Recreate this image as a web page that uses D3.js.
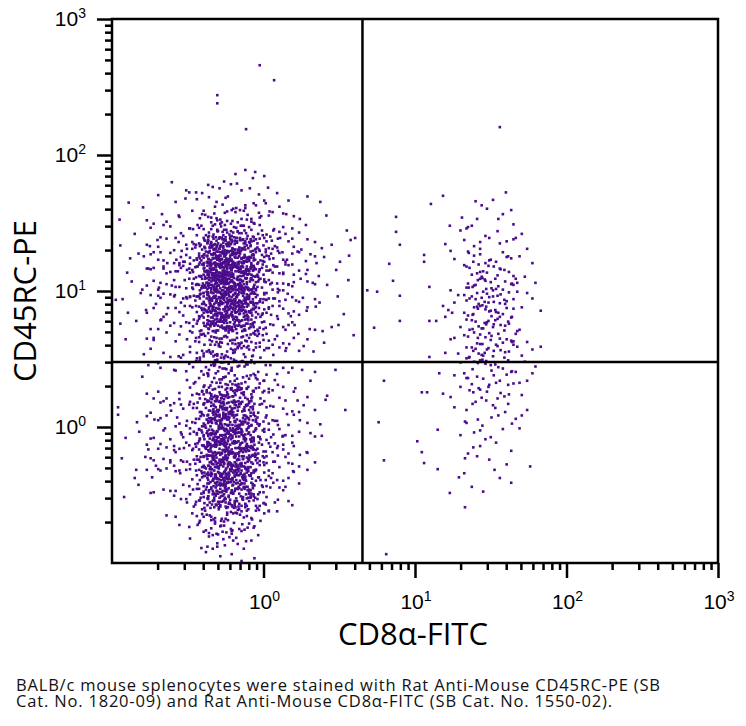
<!DOCTYPE html>
<html>
<head>
<meta charset="utf-8">
<script src="https://cdn.jsdelivr.net/npm/d3@7"></script>
<style>body{margin:0;background:#fff}</style>
</head>
<body>
<script>
// events as "xxxyyy": (log10(value)+1)*200 for CD8a-FITC, then CD45RC-PE
var cd8NegHigh = [
 "163572 186566 148561 201569 079560 189575 171548 133553 194542 157557 119544 182551 102545 206552",
 "146527 201533 128538 164522 187529 112535 153539 221524 138531 176526 097536 160521 041523 022530 275531",
 "143505 179512 121518 166501 195508 135514 152503 208517 127509 171506 149515 088511 184502 158519 116507 230513 139504 163516 197510 131501 174518 066513 248506 283511 010505",
 "155483 131491 172496 146487 188499 124482 161494 140488 179481 113497 151490 168485 136498 193484 102492 158481 144495 175489 128486 164493 209480 149497 134483 184490 118496 166487 147482 226494 139488 157499 177485 107491 170496 133480 198489 152486 030484 256497 214491 310489",
 "143465 181472 121478 163461 150474 200467 137479 171463 115470 156476 189461 130468 148475 215466 127473 167460 142479 110464 154471 195477 135462 162469 122475 183466 145478 159461 204473 132467 173476 099462 153470 187479 138465 165473 117468 176461 141477 192470 129464 158475 106462 169478 147466 182471 123463 161479 139467 211474 134461 174470 050466 238477 277463 088472 290468 250461 060475 222478",
 "150443 119451 190457 144446 163440 131454 180449 153458 125442 171447 136455 201450 148441 166456 112448 185453 157444 129459 174441 141452 196445 160457 121449 178443 134455 152446 207451 116442 168458 145447 187453 139440 162456 103449 176444 149451 127457 193442 156448 133453 170459 118445 183450 147441 164454 137448 210455 154443 124458 174449 143452 189446 132440 159457 115451 181444 151455 128447 167441 198453 140449 163456 096443 042451 231446 262454 024448 245458 301443 073441 280450 225457 085446 256444 035455 313452 208447 092459 270441",
 "158423 131431 172437 146426 188434 124428 161439 140422 179432 113436 151425 168430 136438 193421 102433 158427 144435 175429 128424 164437 209431 149426 134433 184438 118422 166429 147435 226427 139439 157423 177432 107428 170436 133421 198434 152428 126437 186430 160422 143438 181425 121433 163429 150436 200424 137431 171427 115439 156434 189421 130428 148433 215436 127426 167439 142422 178430 110435 154427 195432 135420 162437 122429 183433 145424 159438 204430 132426 173435 099431 153423 187437 138428 165434 117421 176429 141436 192424 129439 048433 256425 238439 020427 296431 068436 273422 087429",
 "158403 106411 169417 147406 182414 123408 161419 139402 211412 134416 174405 150410 119418 190401 144413 163407 131419 180404 153411 096416 166409 136403 201417 125412 171406 148419 185402 112410 157415 141408 178413 128405 196418 152401 120411 167416 143404 233409 137419 160413 155406 131402 172414 146418 188409 124405 161412 140417 179403 113410 151415 168408 136401 193414 102418 158407 144411 175404 128416 164402 209410 149413 134407 184417 118404 166410 147415 226401 139412 157406 177418 107403 170409 133416 198405 152411 026414 062405 249418 284409 040402 265412 312416 079408 221401",
 "143385 181391 121397 163382 150394 200388 137399 171384 115392 156387 189396 130381 148393 215389 127398 167383 142390 178395 110386 154399 195384 135392 162388 122381 183396 145390 159383 204397 132386 173393 099389 153382 187398 138385 165391 117396 176387 141382 192394 129388 150398 119381 190391 144384 163397 131389 180393 153386 125399 171382 136390 201395 148387 166383 112392 185398 157385 129390 174397 141381 196388 160394 121384 178391 134397 152383 207389 116395 168386 145393 187381 139398 162388 103392 176385 038397 252390 274383 014388 232396 058381 298392 083394 243386",
 "150365 119372 190377 144362 163374 131368 180379 153363 125371 171376 136366 201373 148361 166378 112369 185364 157375 129370 174367 141379 196362 160373 121368 178377 134364 152371 207376 116362 168379 145367 187373 139365 162370 103378 176363 149374 127369 193366 156378 133361 170372 118375 183368 147363 164377 137370 210365 154373 124379 174362 143368 189375 132371 159364 115377 181369 151362 128376 167371 198365 140374 163368 096378 045372 236363 269377 021368 257371 306366 074375",
 "158343 131351 172357 146346 188354 124348 161359 140342 179352 113356 151345 168350 136358 193341 102353 158347 144355 175349 128344 164357 209351 149346 134353 184358 118342 166349 147355 226347 139359 157343 177352 107348 170356 133341 198354 152348 126357 186350 160342 143358 181345 121353 163349 150356 200344 137351 171347 115359 156354 189341 130348 148353 032356 261344 241350 290347 065358 011352 278341",
 "143325 181331 121337 163322 150334 200328 137339 171324 115332 156327 189336 130321 148333 215329 127338 167323 142330 178335 110326 154339 195324 135332 162328 122321 183336 145330 159323 204337 132326 173333 099329 153322 187338 138325 165331 117336 176327 141322 192334 129328 055331 246337 280324 018329 234322 319335",
 "150305 119312 190317 144302 163314 131308 180319 153303 125311 171316 136306 201313 148301 166318 112309 185304 157315 129310 174307 141319 196302 160313 121308 178317 134304 152311 207316 116302 168319 145307 187313 139305 162310 103318 176303 042307 230316 266311 088304 253319",
 "158283 131291 172297 146286 188294 124288 161299 140282 179292 113296 151285 168290 136298 193281 102293 158287 144295 175289 128284 164297 209291 149286 134293 184298 118282 166289 147295 226287 139299 157283 177292 107288 170296 048291 251284"
].join(" ");

var cd8NegHighWide = [
 "150537 098548 203529 127556 176522 061541 233533 142551 190526 111545 165558 084531 218544 136524 258539",
 "119513 184506 152517 072502 207511 131508 169519 046504 194515 145501 240510 106518 178505 123512 212516 159503 089509 226514 138507 187500",
 "115493 171485 055499 199482 148490 133496 221487 094481 181494 157488 068497 204483 121491 247486 143499 186480 103492 166488 077495 229484 139490 195497 112482 160486 051493 213489 128481 174496 091485 238492",
 "147463 183476 108469 268472 135461 201478 116466 162474 082460 219477 154467 126471 192464 064479 173462 150475 098468 203461 127479 176470 061465 233473 142462 190476 111468 165471 084478 218464 136469 258476 119461 184473 152466 072477 207463 131470 169475 046468 194461 145478 240465 106472 178467 123474 212462",
 "159453 089441 226446 138458 187449 115455 171442 055457 199444 148451 133448 221456 094443 181450 157459 068445 204452 121441 247457 143447 186454 103440 166449 077456 229443 139451 195459 112446 160441 051454 213448 128457 174443 091450 238455 147442 183458 108445 268451 135456 201443 116448 162454 082441 219459 154446 126452 192440 064457 173449 150445 098453 203457 127441 176450 061446",
 "233438 142427 190432 111420 165435 084429 218436 136423 258431 119439 184424 152434 072426 207430 131437 169422 046433 194428 145439 240424 106431 178436 123421 212427 159434 089438 226425 138430 187436 115422 171428 055434 199439 148423 133431 221426 094437 181429 157421 068433 204436 121424 247430 143438 186422 103427 166435 077428 229439 139424 195431 112436 160425 051432 213438 128421 174429 091434",
 "238407 147415 183402 108418 268410 135405 201414 116401 162409 082416 219403 154411 126419 192406 064412 173400 150417 098404 203413 127408 176419 061402 233410 142415 190403 111409 165418 084406 218411 136401 258414 119407 184419 152403 072410 207416 131404 169412 046408 194417 145401 240413 106405 178410 123418 212402 159414 089406 226411 138417 187404 115409 171401 055415",
 "199383 148391 133397 221385 094389 181393 157381 068396 204387 121392 247384 143398 186388 103391 166383 077395 229387 139399 195385 112392 160381 051394 213389 128386 174397 091383 238391 147396 183384 108393 268388 135381 201397 116389 162385 082392 219398 154386 126394 192382 064390 173398 150384 098391 203387 127395 176382 061393",
 "233367 142373 190361 111378 165369 084375 218363 136371 258376 119364 184372 152379 072366 207374 131361 169377 046368 194375 145363 240370 106376 178365 123372 212378 159362 089369 226374 138366 187379 115363 171371 055375 199367 148361 133373 221378 094364 181370 157376 068362 204368 121374 247365",
 "143347 186353 103341 166357 077349 229343 139355 195346 112352 160358 051344 213350 128356 174342 091348 238354 147345 183351 108358 268343 135349 201355 116341 162347 082353 219359 154346 126351 192343 064357 173349 150342 098354 203346 127352 176358 061344 233350 142355",
 "190323 111331 165338 084326 218334 136321 258329 119336 184325 152332 072339 207327 131333 169322 046330 194337 145324 240331 106339 178326 123334 212321 159328 089336 226323 138331 187338 115325 171332 055328 199335",
 "148303 133311 221317 094306 181314 157301 068309 204316 121304 247312 143318 186305 103310 166316 077303 229312 139307 195318 112301 160309 051315 213306 128313 174319 091302"
].join(" ");

var cd8NegHighCore = [
 "152469 138474 167461 145478 175465 131472 159463 148476 183467 126470 156479 141462 170475 135468 162473 149460 178477 129464 154471 143466 187474 137462 164478 151469 122465 172461 146476 158472 133467 180463 150479 140470 168464 127475 161461 144468 176473 134477 155466 190462 147471 165478 132464 157469 173475",
 "139446 150453 184441 128457 163449 142444 169455 136442 153458 179447 125451 160443 145456 171448 130441 158454 149445 186459 138450 166442 143457 155447 121453 174444 152459 134448 162441 147455 181446 137452 168443 154458 141449 177444 150456 152442 138451 167458 145447 175453 131445 159440 148457 183449 126443 156452 141446 170459 135441 162450 149455 178448 129443 154457 143452 187445 137440 164456 151448 122454 172441 146459 158446 133453 180449 150442 140458 168451 127447 161455 144441",
 "176426 134433 155438 190422 147429 165436 132424 157431 173427 139439 150423 184434 128428 163437 142421 169433 136426 153439 179424 125430 160435 145422 171428 130437 158431 149424 186436 138429 166421 143434 155427 121438 174423 152432 134426 162437 147421 181430 137435 168428 154423 141439 177431 150425 152436 138422 167430 145437 175426 131433 159421 148429 183435 126424 156438 141427 170432 135422 162436 149429 178425 129433 154439 143426 187431 137424 164437 151428 122434 172422 146430 158437 133425 180431 150438 140423 168434 127429 161436 144421 176427 134432",
 "155406 190413 147401 165417 132409 157404 173415 139408 150419 184402 128411 163406 142416 169403 136410 153418 179405 125412 160401 145414 171407 130419 158403 149411 186416 138406 166402 143413 155418 121405 174410 152404 134417 162408 147412 181401 137415 168409 154404 141418 177406 150411 152415 138403 167409 145417 175401 131414 159406 148410 183418 126403 156413 141408 170416 135402 162411 149405 178419 129409 154402 143415 187406 137413 164401 151417 122408 172404 146412 158416 133407 180402 150414 140418 168405 127411 161403",
 "144396 176384 134391 155398 190382 147389 165393 132386 157399 173381 139388 150395 184383 128392 163387 142398 169385 136390 153396 179381 125389 160394 145383 171397 130386 158391 149399 186384 138388 166395 143381 155392 121397 174386 152383 134390 162396 147382 181388 137393 168399 154385 141391 177382 150397 152389 138384 167395 145381 175390 131398 159386 148392 183383 126396 156387 141399 170384 135391 162385 149397 178388 129382 154394 143389 187396 137383 164391",
 "151366 122373 172378 146362 158369 133375 180361 150377 140368 168374 127363 161379 144366 176371 134377 155364 190369 147373 165361 132378 157366 173372 139364 150376 184368 128374 163362 142379 169367 136371 153376 179363 125369 160375 145361 171372 130378 158365 149370 186374 138363 166378 143367 155373 121361 174376 152368 134372 162379 147364 181370 137375 168366 154361 141374 177369",
 "150346 152353 138342 167357 145349 175344 131355 159341 148358 183347 126352 156343 141356 170348 135341 162354 149345 178359 129350 154342 143357 187347 137353 164344 151358 122349 172341 146355 158346 133352 180357 150343 140349 168354 127345 161351 144358 176342 134356 155348"
].join(" ");

var cd8NegLow = [
 "143265 181271 121277 163262 150274 200268 137279 171264 115272 156267 189276 130261 148273 215269 127278 167263 142270 178275 110266 154279 195264 135272 162268 122261 183276 145270 159263 204277 132266 173273 099269 153262 187278 138265 165271 040274 262268",
 "150245 119252 190257 144242 163254 131248 180259 153243 125251 171256 136246 201253 148241 166258 112249 185244 157255 129250 174247 141259 196242 160253 121248 178257 134244 152251 207256 116242 168259 145247 187253 139245 162250 103258 176243 061252 242257 284246 089241",
 "158223 131231 172237 146226 188234 124228 161239 140222 179232 113236 151225 168230 136238 193221 102233 158227 144235 175229 128224 164237 209231 149226 134233 184238 118222 166229 147235 226227 139239 157223 177232 107228 170236 133221 198234 152228 126237 186230 160222 143238 181225 121233 008229 064236 078224 253232 245239",
 "143205 181211 121217 163202 150214 200208 137219 171204 115212 156207 189216 130201 148213 215209 127218 167203 142210 178215 110206 154219 195204 135212 162208 122201 183216 145210 159203 204217 132206 173213 099209 153202 187218 138205 165211 117216 176207 141202 192214 129208 150218 119201 190211 144204 163217 131209 180213 033207 086214 231219 275204 056211",
 "150185 119192 190197 144182 163194 131188 180199 153183 125191 171196 136186 201193 148181 166198 112189 185184 157195 129190 174187 141199 196182 160193 121188 178197 134184 152191 207196 116182 168199 145187 187193 139185 162190 103198 176183 149194 127189 193186 156198 133181 170192 118195 183188 147183 164197 137190 210185 154193 124199 174182 143188 189195 132191 159184 115197 092189 036193 225186 262191 070198 018184",
 "158163 131171 172177 146166 188174 124168 161179 140162 179172 113176 151165 168170 136178 193161 102173 158167 144175 175169 128164 164177 209171 149166 134173 184178 118162 166169 147175 226167 139179 157163 177172 107168 170176 133161 198174 152168 126177 186170 160162 143178 181165 121173 163169 150176 200164 137171 171167 115179 156174 189161 130168 148173 215176 127166 167179 142162 178170 110175 082172 048167 238177 257163 095169",
 "143145 181151 121157 163142 150154 200148 137159 171144 115152 156147 189156 130141 148153 215149 127158 167143 142150 178155 110146 154159 195144 135152 162148 122141 183156 145150 159143 204157 132146 173153 099149 153142 187158 138145 165151 117156 176147 141142 192154 129148 150158 119141 190151 144144 163157 131149 180153 153146 125159 171142 136150 201155 148147 166143 112152 185158 157145 077151 044156 233147 058143 248159",
 "150125 119132 190137 144122 163134 131128 180139 153123 125131 171136 136126 201133 148121 166138 112129 185124 157135 129130 174127 141139 196122 160133 121128 178137 134124 152131 207136 116122 168139 145127 187133 139125 162130 103138 176123 149134 127129 193126 156138 133121 170132 118135 183128 147123 164137 137130 210125 154133 124139 174122 143128 189135 132131 159124 115137 181129 090132 053126 239135",
 "158103 131111 172117 146106 188114 124108 161119 140102 179112 113116 151105 168110 136118 193101 102113 158107 144115 175109 128104 164117 209111 149106 134113 184118 118102 166109 147115 226107 139119 157103 177112 107108 170116 133101 198114 152108 126117 186110 160102 143118 181105 121113 163109 150116 200104 137111 084106 035115",
 "143085 181091 121097 163082 150094 200088 137099 171084 115092 156087 189096 130081 148093 215089 127098 167083 142090 178095 110086 154099 195084 135092 162088 122081 183096 145090 159083 204097 132086 173093 099089 153082 187098 138085 165091 117096 176087 141082 192094",
 "150065 119072 190077 144062 163074 131068 180079 153063 125071 171076 136066 201073 148061 166078 112069 185064 157075 129070 174067 141079 196062 160073 121068 178077 134064 152071 207076 116062 168079",
 "158043 131051 172057 146046 188054 124048 161059 140042 179052 113056 151045 168050 136058 193041 102053 158047 144055 175049 128044",
 "164037 149026 184033 118022 147035 139029 177032 133021 155038 126024 158013 188007 124016 171003 143010"
].join(" ");

var cd8NegLowWide = [
 "238287 147273 183295 108264 268281 135290 201268 116298 162276 082284 219262 154293 126279 064287 192270 173296 150263 098282 203291 127275 176266 061294 233280 142288 190272 111297 165261 084283 218278 136292",
 "258244 119253 184248 152257 072242 207251 131246 169255 046249 194258 145243 240252 106247 178256 123241 212254 159245 089250 226259 138244 187252 115248 171257 055242 199251 148246 133255 221243",
 "094227 181235 157221 068238 204229 121234 247222 143231 186226 103237 166224 077232 229239 139225 195233 112228 160236 051221 213230 128238 174226 091233 238223 147237 183229 108234 268225 135231 201238 116222 162228 082235",
 "219203 154211 126217 192205 064213 173208 150219 098202 203214 127206 176217 061210 233203 142215 190208 111212 165218 084201 218209 136214 258206 119219 184203 152211 072217 207205 131213 169209 046216 194202 145212 240218 106207 178214 123203 212210 159217 089205",
 "226187 138193 187181 115196 171189 055184 199195 148182 133190 221197 094185 181192 157188 068195 204181 121186 247193 143199 186184 103190 166197 077182 229188 139194 195185 112191 160198 051183 213189 128196 174185 091192 238187 147199 183182 108193 268186 135190 201197 116183 162194",
 "082166 219172 154161 126178 192168 064175 173163 150170 098177 203164 127172 176179 061168 233161 142174 190166 111171 165178 084163 218169 136175 258162 119173 184179 152165 072170 207176 131164 169168 046174 194177 145161 240172 106166 178175 123170 212163 159177 089168 226174 138161 187179 115167",
 "171143 055151 199157 148146 133152 221141 094149 181158 157144 068153 204147 121156 247142 143150 186159 103145 166153 077148 229156 139141 195150 112157 160143 051154 213149 128158 174142 091151 238146 147155 183141 108152 268148 135157 201144 116149 162155 082143 219158 154146 126153 192147",
 "064136 173124 150131 098137 203122 127133 176127 061138 233125 142132 190121 111136 165129 084135 218122 136130 258137 119126 184132 152124 072139 207128 131133 169121 046137 194126 145131 240134 106123 178138 123128 212132 159125 089136 226121",
 "138114 187101 115109 171117 055104 199112 148118 133106 221111 094115 181102 157119 068108 204113 121103 247117 143109 186114 103101 166118 077106 229112 139119 195104 112109 160115 051103 213118 128107 174112",
 "091094 238085 147091 183098 108083 135096 201088 116092 162085 082099 219093 154087 126095 192081 173097 150089 098094 203086 127098 176082 233091 142096 190084 111090",
 "165073 084068 218076 136061 119079 184066 152074 072070 207077 131063 169071 194078 145065 106073 178069 123077",
 "159048 089056 138043 187052 115059 171047 148055 133041 181058 157050 121046 143054 166028 103036 139024 160033 128039 174021"
].join(" ");

var cd8NegLowCore = [
 "147246 165253 132241 157257 173249 139244 150255 184242 128258 163247 142251 169243 136256 153248 179241 125254 160245 145259 171250 130242 158257 149246 186253 138241 166255 143248 155244 121259 174251 152247",
 "134226 162233 147221 181238 137229 168234 154222 141237 177231 150226 152235 138223 167238 145229 175224 131236 159227 148233 183221 126239 156230 141225 170234 135222 162237 149228 178233 129224 154236 143229 187221 137238 164232 151226 122235 172223 146230 158237 133224",
 "180206 150213 140217 168202 127209 161214 144205 176211 134218 155203 190208 147215 165201 132212 157219 173204 139209 150216 184202 128213 163207 142218 169203 136210 153215 179205 125211 160218 145202 171207 130213 158219 149204 186210 138216 166201 143208 155214 121205 174217 152203 134212 162209 147218 181201 137206",
 "168186 154193 141197 177182 150189 152195 138181 167192 145198 175184 131191 159187 148196 183182 126194 156189 141185 170197 135181 162193 149188 178195 129183 154190 143198 187184 137191 164186 151197 122182 172193 146188 158195 133181 180190 150197 140184 168192 127187 161195 144182 176189 134194 155185 190198 147183 165191 132196 157182 173188 139193",
 "150165 184172 128177 163161 142168 169174 136163 153179 179166 125171 160176 145162 171169 130175 158161 149178 186167 138173 166161 143177 155165 121172 174168 152175 134162 162179 147166 181171 137176 168163 154170 141178 177164 150172 152167 138175 167161 145179 175166 131172 159163 148177 183169 126174 156161 141178 170165 135172 162176 149163 178169 129174 154162 143178 187167 137171",
 "164146 151153 122141 172157 146149 158144 133155 180141 150158 140147 168152 127143 161156 144148 176141 134154 155145 190159 147150 165142 132157 157146 173153 139141 150155 184148 128143 163158 142152 169146 136141 153155 179149 125157 160144 145152 171147 130158 158141 149153 186146 138155 166142 143159 155148 121143 174157 152151 134145 162159 147142 181154 137149 168157",
 "154126 141133 177121 150137 152129 138124 167135 145128 175131 131138 159122 148134 183129 126125 156137 141123 170131 135136 162127 149121 178133 129138 154124 143130 187136 137128 164122 151139 122133 172126 146131 158138 133121 180135 150127 140134 168129 127122 161136 144127 176139 134123 155130 190137 147125 165132 132138 157123 173129",
 "139106 150113 184102 128117 163109 142104 169115 136101 153118 179107 125112 160103 145116 171108 130119 158104 149111 186116 138102 166109 143114 155119 121105 174111 152118 134103 162106 147114 181108 137117 168102 154110 141115 177101 150109 152118 138106 167112 145104 175117 131109 159114 148101 183107",
 "126085 156093 141087 170098 135082 162091 149096 178084 129089 154097 143083 187092 137086 164095 151081 122088 172094 146099 158085 133091 180096 150083 140090 168087 127094 161081 144098 176086 134092 155089"
].join(" ");

var cd8Pos = [
 "503534 488526 516513 482506 527519 470494 509488 493481 530498 478466 521473 498478 486462 512470 465475",
 "500446 478452 516457 493441 527448 486454 507443 470458 521450 498445",
 "482426 512433 465438 530422 490429 504436 475424 518431 495427 484439 509423 472434 524428 497437 488421 513432",
 "468405 535412 492417 503401 480409 519414 476406 506418 494403 528411 483416 510407 489419 501404 500413 478408 516402 493415 527410 486418 507403 470411",
 "521385 498391 482397 512382 465394 530388 490399 504384 475392 518387 495396 484381 509393 472389 524398 497383 488390 513395 468386 535399 492384 503392 480388 519381",
 "476365 506372 494377 528362 483374 510368 489379 501363 500371 478376 516366 493373 527361 486378 507369 470364 521375 498370 482377 512362 465368 530374",
 "490345 504351 475357 518342 495354 484348 509359 472343 524352 497356 488345 513350 468358 535341 492353 503347 480355 519349 476344 506357 494351",
 "528325 483331 510337 489322 501334 500328 478339 516324 493332 527327 486336 507321 470333 521329 498338 482323 512330 465335 530326",
 "490305 504312 475317 518302 495314 484308 509319 472303 524311 497316 488306 513313 468301 535318 492309 503304 480315 519310",
 "476285 506292 494297 528282 483294 510288 489299 501283 500291 478296 516286 493293 527281 486298",
 "507265 470272 521277 498262 482274 512268 465279 530264 490271 504276 475263 518245 495252 484257 509242 472254 524248 497259 488243 513250",
 "468225 503232 480237 519222 476234 506228 494239 528205 483211 510217 489202 501214 466208",
 "500185 478192 516197 493182 527165 486172 507177 470161 521145 498152 482157 512125 465132 505137 490105 475112"
].join(" ");

var cd8PosWide = [
 "452383 566371 471405 548397 440362 533418 460347 555389 486428 541376 447401 523355 468436 559412 437378 538343 457394 545421 477366 530409",
 "452331 566318 471302 548325 440309 533337 460295 555314 486322 541305 447329 523298 468317 559289 457308 545296 477312 530321",
 "452276 548268 460259 533281 486255 541247 468272 523262 447244 555279 477251 538265",
 "452229 541217 468206 523234 486195 533212 460188 548225 477170 538198 466154 552142 458126 527118",
 "452447 548462 471456 533478 440469 523451 460489 555441 486472 541484 447459 477443 530476 468492 538451 510506 495521 462508 520545 480532"
].join(" ");

var sparse = [
 "437540 421528 375509 375487 380468 366440 371415 380393 380356 346346 337401 350399 412453 412443 419406",
 "419356 428356 444372 449368 446496 475496 359268 409251 416251 437249 432279 419303 352207 403179 409163",
 "412147 359151 430196 430138 446103 466082 362013 315475 299350 308225 295284 277187 248210 282240 321478",
 "195732 214710 139688 139676 177638 176578 512641",
 "008218 013154 032137 030125 016097 005387 011467"
].join(" ");

var quadX = 4.5, quadY = 3.0;
var decades = [1, 10, 100, 1000];
var decadeExp = ["0", "1", "2", "3"];
var xTitle = "CD8α-FITC", yTitle = "CD45RC-PE";
var caption = ["BALB/c mouse splenocytes were stained with Rat Anti-Mouse CD45RC-PE (SB",
               "Cat. No. 1820-09) and Rat Anti-Mouse CD8α-FITC (SB Cat. No. 1550-02)."];
var captionWidth = [644, 596];

function decode(s){
	return s.trim().split(/\s+/).map(function(t){
		return [Math.pow(10, +t.slice(0,3)/200 - 1), Math.pow(10, +t.slice(3)/200 - 1)];
	});
}
var events = [].concat(decode(cd8NegHigh), decode(cd8NegHighWide), decode(cd8NegHighCore),
	decode(cd8NegLow), decode(cd8NegLowWide), decode(cd8NegLowCore),
	decode(cd8Pos), decode(cd8PosWide), decode(sparse));

var w = 746, h = 726;
var svg = d3.select("body").append("svg")
	.attr("width", w)
	.attr("height", h);

var x = d3.scaleLog().domain([0.1, 1000]).range([112, 718]);
var y = d3.scaleLog().domain([0.1, 1000]).range([563, 19]);

svg.append("g").selectAll("rect")
	.data(events)
	.enter().append("rect")
	.attr("x", function(d){ return x(d[0]) - 1.3; })
	.attr("y", function(d){ return y(d[1]) - 1.3; })
	.attr("width", 2.6)
	.attr("height", 2.6)
	.attr("fill", "#4b0c8c");

// quadrant gate
svg.append("line")
	.attr("x1", x(quadX)).attr("x2", x(quadX))
	.attr("y1", y(1000)).attr("y2", y(0.1))
	.attr("stroke", "#000").attr("stroke-width", 2.5);
svg.append("line")
	.attr("x1", x(0.1)).attr("x2", x(1000))
	.attr("y1", y(quadY)).attr("y2", y(quadY))
	.attr("stroke", "#000").attr("stroke-width", 2.5);

svg.append("rect")
	.attr("x", x(0.1)).attr("y", y(1000))
	.attr("width", x(1000) - x(0.1))
	.attr("height", y(0.1) - y(1000))
	.attr("fill", "none").attr("stroke", "#000").attr("stroke-width", 2.5);

var minor = [];
[0.1, 1, 10, 100].forEach(function(d){
	for (var m = 2; m <= 9; m++) minor.push(d * m);
});

function ticks(g){
	g.select(".domain").remove();
	g.selectAll("line").attr("stroke", "#000").attr("stroke-width", 2.5);
}
svg.append("g").attr("transform", "translate(0," + y(0.1) + ")")
	.call(d3.axisBottom(x).tickValues(minor).tickSize(7).tickFormat("")).call(ticks);
svg.append("g").attr("transform", "translate(0," + y(0.1) + ")")
	.call(d3.axisBottom(x).tickValues(decades).tickSize(15).tickFormat("")).call(ticks);
svg.append("g").attr("transform", "translate(" + x(0.1) + ",0)")
	.call(d3.axisLeft(y).tickValues(minor).tickSize(7).tickFormat("")).call(ticks);
svg.append("g").attr("transform", "translate(" + x(0.1) + ",0)")
	.call(d3.axisLeft(y).tickValues(decades).tickSize(15).tickFormat("")).call(ticks);

function powLabel(sel){
	sel.append("tspan").text("10");
	sel.append("tspan").attr("dy", -8).attr("font-size", 14).text(function(d, i){ return decadeExp[i]; });
}
svg.append("g").selectAll("text").data(decades).enter().append("text")
	.attr("x", function(d){ return x(d) + 1; })
	.attr("y", 609)
	.attr("text-anchor", "middle")
	.attr("font-family", "Liberation Sans, Arial, sans-serif")
	.attr("font-size", 21)
	.call(powLabel);
svg.append("g").selectAll("text").data(decades).enter().append("text")
	.attr("x", 86)
	.attr("y", function(d){ return y(d) + 7; })
	.attr("text-anchor", "end")
	.attr("font-family", "Liberation Sans, Arial, sans-serif")
	.attr("font-size", 21)
	.call(powLabel);

svg.append("text")
	.attr("x", 413).attr("y", 645)
	.attr("text-anchor", "middle")
	.attr("font-family", "Open Sans, sans-serif")
	.attr("font-size", 31)
	.text(xTitle);
svg.append("text")
	.attr("transform", "translate(36,301) rotate(-90)")
	.attr("text-anchor", "middle")
	.attr("font-family", "Open Sans, sans-serif")
	.attr("font-size", 31)
	.text(yTitle);

var cap = svg.append("text")
	.attr("font-family", "Open Sans, sans-serif")
	.attr("font-size", 16.5)
	.attr("fill", "#111");
cap.selectAll("tspan").data(caption).enter().append("tspan")
	.attr("x", 16)
	.attr("y", function(d, i){ return 691 + i * 16; })
	.attr("textLength", function(d, i){ return captionWidth[i]; })
	.attr("lengthAdjust", "spacing")
	.text(function(d){ return d; });
</script>
</body>
</html>
